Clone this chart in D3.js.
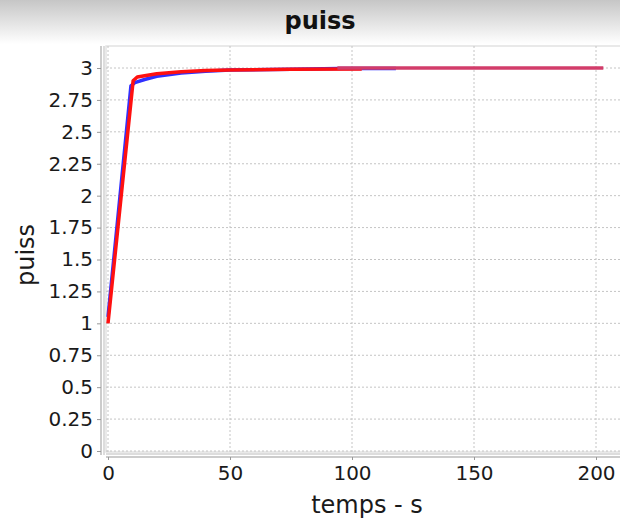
<!DOCTYPE html>
<html><head><meta charset="utf-8">
<script src="https://cdn.jsdelivr.net/npm/d3@7"></script>
<style>body{margin:0;background:#fff}svg{display:block}</style>
</head><body>
<svg id="c" width="620" height="521"></svg>
<script>
const title = "puiss";
const xLabel = "temps - s";
const yLabel = "puiss";
const xTicks = [0, 50, 100, 150, 200];
const yTicks = [0, 0.25, 0.5, 0.75, 1, 1.25, 1.5, 1.75, 2, 2.25, 2.5, 2.75, 3];
const redT = [0, 10.3, 12, 15, 20, 30, 40, 50, 75, 104];
const redV = [1.0, 2.9, 2.93, 2.94, 2.955, 2.97, 2.98, 2.985, 2.99, 2.993];
const blueT = [0, 9.4, 11, 15, 20, 30, 40, 50, 75, 95, 118];
const blueV = [1.05, 2.86, 2.885, 2.91, 2.935, 2.96, 2.975, 2.985, 2.99, 2.997, 2.997];
const pinkT = [94, 203];
const pinkV = [3.0, 3.0];

const svg = d3.select("#c");
const W = 620, H = 521;
const L = 106, R = 620, T = 46, B = 452;

const defs = svg.append("defs");
const g = defs.append("linearGradient").attr("id","bg").attr("x1",0).attr("y1",0).attr("x2",0).attr("y2",1);
g.append("stop").attr("offset","0").attr("stop-color","#c6c6c6");
g.append("stop").attr("offset","1").attr("stop-color","#ffffff");
svg.append("rect").attr("width",W).attr("height",H).attr("fill","#fff");
svg.append("rect").attr("width",W).attr("height",44).attr("fill","url(#bg)");

const x = d3.scaleLinear().domain([0,200]).range([108,596]);
const y = d3.scaleLinear().domain([0,3]).range([451,68]);

svg.append("rect").attr("x",L).attr("y",T).attr("width",R-L+2).attr("height",B-T)
  .attr("fill","#fff").attr("stroke","#e2e2e2").attr("stroke-width",1.5);

svg.append("g").selectAll("line").data(xTicks).join("line")
  .attr("x1",d=>x(d)).attr("x2",d=>x(d)).attr("y1",T).attr("y2",B)
  .attr("stroke","#c4c4c4").attr("stroke-dasharray","2,2").attr("stroke-width",1);
svg.append("g").selectAll("line").data(yTicks).join("line")
  .attr("x1",L).attr("x2",R).attr("y1",d=>y(d)).attr("y2",d=>y(d))
  .attr("stroke","#c4c4c4").attr("stroke-dasharray","2,2").attr("stroke-width",1);

const yAxis = d3.axisLeft(y).tickValues(yTicks).tickFormat(d=>String(d)).tickSize(4).tickPadding(4);
const ya = svg.append("g").attr("transform","translate(101,0)").call(yAxis);
ya.select(".domain").remove();
ya.append("line").attr("x1",0).attr("x2",0).attr("y1",T).attr("y2",B+3).attr("stroke","#999");
ya.append("line").attr("x1",3).attr("x2",3).attr("y1",T).attr("y2",B+3).attr("stroke","#bbb");
ya.selectAll(".tick line").attr("stroke","#999");
ya.selectAll("text").attr("font-family","DejaVu Sans").attr("font-size",20).attr("fill","#1a1a1a");

const xAxis = d3.axisBottom(x).tickValues(xTicks).tickSize(3).tickPadding(6);
const xa = svg.append("g").attr("transform","translate(0,457)").call(xAxis);
xa.select(".domain").remove();
xa.append("line").attr("x1",L).attr("x2",R).attr("y1",0).attr("y2",0).attr("stroke","#999");
xa.append("line").attr("x1",L).attr("x2",R).attr("y1",-3).attr("y2",-3).attr("stroke","#bbb");
xa.selectAll(".tick line").attr("stroke","#999");
xa.selectAll("text").attr("font-family","DejaVu Sans").attr("font-size",20).attr("fill","#1a1a1a");

const line = d3.line().x(d=>x(d[0])).y(d=>y(d[1]));
const zip = (a,b)=>a.map((t,i)=>[t,b[i]]);
svg.append("path").datum(zip(blueT,blueV)).attr("d",line)
  .attr("fill","none").attr("stroke","#3030ff").attr("stroke-width",3.5).attr("stroke-linejoin","round");
svg.append("path").datum(zip(redT,redV)).attr("d",line)
  .attr("fill","none").attr("stroke","#ff1010").attr("stroke-width",3.5).attr("stroke-linejoin","round");
svg.append("path").datum(zip(pinkT,pinkV)).attr("d",line)
  .attr("fill","none").attr("stroke","#d23c6a").attr("stroke-width",3.5);

svg.append("text").attr("x",320).attr("y",29).attr("text-anchor","middle")
  .attr("font-family","DejaVu Sans").attr("font-weight","bold").attr("font-size",24).attr("fill","#111").text(title);
svg.append("text").attr("x",367).attr("y",513).attr("text-anchor","middle")
  .attr("font-family","DejaVu Sans").attr("font-size",24).attr("fill","#1a1a1a").text(xLabel);
svg.append("text").attr("transform","translate(34,255) rotate(-90)").attr("text-anchor","middle")
  .attr("font-family","DejaVu Sans").attr("font-size",24).attr("fill","#1a1a1a").text(yLabel);
</script>
</body></html>
